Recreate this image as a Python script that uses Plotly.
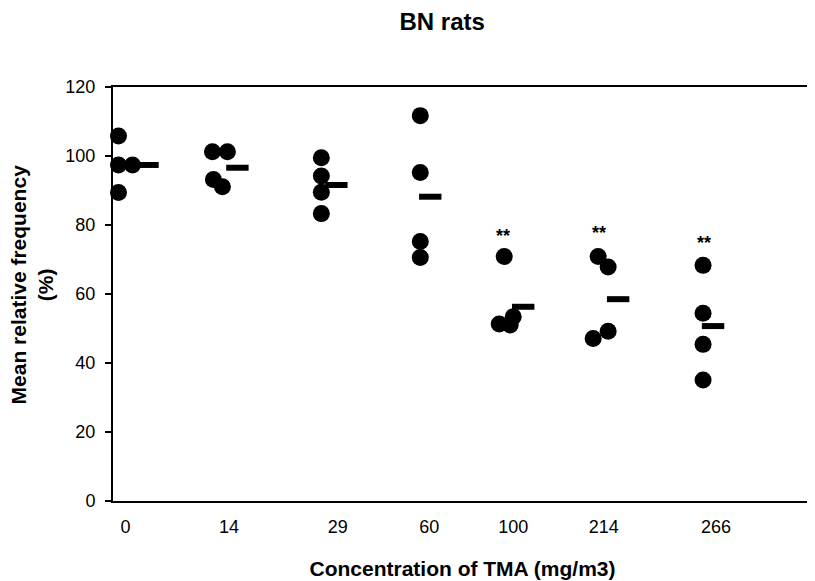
import plotly.graph_objects as go

# ---- data ----
concentrations = ["0", "14", "29", "60", "100", "214", "266"]
freq_0 = [105.8, 97.4, 97.4, 89.4]
freq_14 = [101.2, 101.2, 93.2, 91.1]
freq_29 = [99.5, 94.2, 89.5, 83.3]
freq_60 = [111.7, 95.2, 75.2, 70.6]
freq_100 = [70.9, 53.4, 51.3, 51.0]
freq_214 = [70.9, 67.8, 49.2, 47.1]
freq_266 = [68.3, 54.4, 45.4, 35.1]
group_means = [97.4, 96.6, 91.6, 88.2, 56.3, 58.5, 50.7]
significant = ["", "", "", "", "**", "**", "**"]
star_level = [None, None, None, None, 78.0, 78.8, 75.9]

groups = [freq_0, freq_14, freq_29, freq_60, freq_100, freq_214, freq_266]

# ---- layout positions (horizontal placement of the scatter, not data) ----
tick_pos = [0.125, 1.16, 2.25, 3.165, 4.005, 4.91, 6.035]
group_pos = [0.055, 0.995, 2.085, 3.075, 3.865, 4.805, 5.905]
jitter = [
    [0.00, 0.00, 0.14, 0.00],
    [0.00, 0.15, 0.01, 0.10],
    [0.00, 0.00, 0.00, 0.00],
    [0.00, 0.00, 0.00, 0.00],
    [0.05, 0.14, 0.00, 0.11],
    [0.05, 0.15, 0.15, 0.00],
    [0.00, 0.00, 0.00, 0.00],
]
mean_shift = [0.29, 0.25, 0.15, 0.10, 0.24, 0.25, 0.10]
star_shift = [0, 0, 0, 0, 0.04, 0.06, 0.01]

px, py = [], []
for g, vals in enumerate(groups):
    for j, v in enumerate(vals):
        px.append(group_pos[g] + jitter[g][j])
        py.append(v)

fig = go.Figure()
fig.add_trace(go.Scatter(
    x=px, y=py, mode="markers",
    marker=dict(symbol="circle", size=17, color="black"),
    showlegend=False, hoverinfo="y", cliponaxis=False,
))
fig.add_trace(go.Scatter(
    x=[group_pos[g] + mean_shift[g] for g in range(len(groups))],
    y=group_means, mode="markers",
    marker=dict(symbol="line-ew", size=16, line=dict(width=6, color="black")),
    showlegend=False, hoverinfo="y",
))

for g, s in enumerate(significant):
    if s:
        fig.add_annotation(
            x=group_pos[g] + star_shift[g], y=star_level[g], text="<b>**</b>",
            showarrow=False, yshift=-4, font=dict(size=18, color="black"),
        )

# y-axis title as a rotated two-line annotation
fig.add_annotation(
    xref="paper", yref="paper", x=-0.1165, y=0.522,
    xanchor="center", yanchor="middle", textangle=-90,
    text="<b>Mean relative frequency<br>(%)</b>", showarrow=False,
    font=dict(size=21, color="black"),
)

font_family = "Liberation Sans, Arial, sans-serif"

fig.update_layout(
    width=807, height=573,
    margin=dict(l=104.5, r=3, t=79, b=80),
    paper_bgcolor="white", plot_bgcolor="white",
    font=dict(family=font_family, color="black", size=18),
    title=dict(text="<b>BN rats</b>", x=0.538, xanchor="center",
               y=0.977, yanchor="middle", font=dict(size=24)),
    xaxis=dict(
        range=[0, 6.995], tickmode="array", tickvals=tick_pos, ticktext=concentrations,
        showline=True, linecolor="black", linewidth=2, mirror=True,
        showgrid=False, zeroline=False, ticks="", tickfont=dict(size=18),
        ticklabelstandoff=8,
        title=dict(text="<b>Concentration of TMA (mg/m3)</b>", standoff=26,
                   font=dict(size=21)),
    ),
    yaxis=dict(
        range=[0, 120], tickvals=[0, 20, 40, 60, 80, 100, 120],
        showline=True, linecolor="black", linewidth=2,
        showgrid=False, zeroline=False, ticks="outside", ticklen=6,
        tickcolor="black", tickwidth=1.5, tickfont=dict(size=18),
        ticklabelstandoff=6,
    ),
)

fig.write_html("out.html")
